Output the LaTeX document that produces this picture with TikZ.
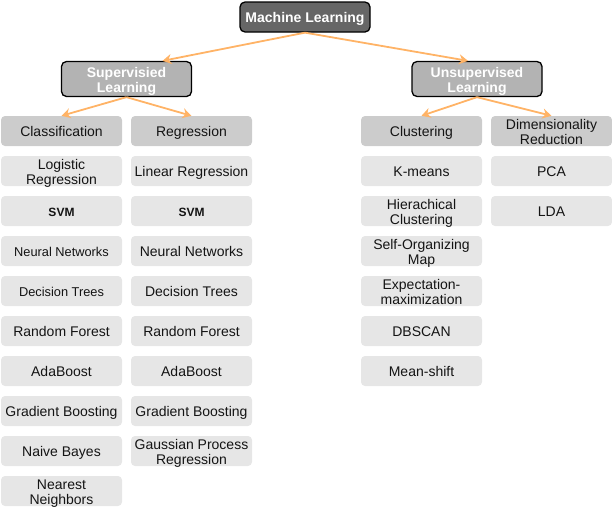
\documentclass[tikz,border=0pt]{standalone}
\usepackage{fontspec}
\setmainfont{Liberation Sans}
\usepackage{tikz}
\usepackage{xcolor}
\usetikzlibrary{arrows.meta}

\definecolor{mlgray}{HTML}{666666}
\definecolor{subgray}{HTML}{B3B3B3}
\definecolor{headgray}{HTML}{CCCCCC}
\definecolor{itemgray}{HTML}{E6E6E6}
\definecolor{textgray}{HTML}{141414}
\definecolor{linkorange}{HTML}{FFB366}
\newcommand{\leftsmall}{\fontsize{12.8}{14}\selectfont}
\newcommand{\svmsize}{\fontsize{12}{13}\selectfont\bfseries}
\newcommand{\twoline}{\rule{0pt}{16.4pt}}

\begin{document}
\begin{tikzpicture}[x=1pt, y=-1pt,
        box/.style={rounded corners=4pt, minimum width=121pt, minimum height=30pt, inner xsep=1pt,
            inner ysep=-4.5pt, align=center, text=textgray, font={\fontsize{14}{15.5}\selectfont},
            execute at begin node=\rule{0pt}{14.6pt}, execute at end node=\rule[-4.6pt]{0pt}{0pt}},
        head/.style={box, fill=headgray},
        item/.style={box, fill=itemgray},
        branch/.style={draw=black, line width=1.3pt, rounded corners=5pt, minimum width=130pt,
            inner xsep=1pt, inner ysep=-4.5pt, align=center, text=white,
            font={\fontsize{14}{15}\selectfont\bfseries},
            execute at begin node=\rule{0pt}{14.6pt}, execute at end node=\rule[-4.6pt]{0pt}{0pt}},
        link/.style={draw=linkorange, line width=1.8pt, -{Stealth[length=9pt, width=10pt]}}]
        \useasboundingbox (0,0) rectangle (612,507);

        \node[branch, fill=mlgray, minimum height=30pt] (ml) at (305,17) {Machine Learning};
        \node[branch, fill=subgray, minimum height=35pt] (sup) at (126.5,79) {\twoline Supervisied\\Learning};
        \node[branch, fill=subgray, minimum height=35pt] (uns) at (477,79) {\twoline Unsupervised\\Learning};

        \node[head] (cls) at (61.5,131) {Classification};
        \node[head] (reg) at (191.5,131) {Regression};
        \node[head] (clu) at (421.5,131) {Clustering};
        \node[head] (dim) at (551.5,131) {\twoline Dimensionality\\Reduction};

        \foreach \name [count=\i] in {{\twoline Logistic\\Regression}, {\svmsize SVM}, {\leftsmall Neural Networks},
                {\leftsmall Decision Trees}, Random Forest, AdaBoost, Gradient Boosting, Naive Bayes,
                {\twoline Nearest\\Neighbors}}
            \node[item] (cls\i) at (61.5,{131+40*\i}) {\name};
        \foreach \name [count=\i] in {Linear Regression, {\svmsize SVM}, Neural Networks, Decision Trees,
                Random Forest, AdaBoost, Gradient Boosting, {\twoline Gaussian Process\\Regression}}
            \node[item] (reg\i) at (191.5,{131+40*\i}) {\name};
        \foreach \name [count=\i] in {K-means, {\twoline Hierachical\\Clustering}, {\twoline Self-Organizing\\Map},
                {\twoline Expectation-\\maximization}, DBSCAN, Mean-shift}
            \node[item] (clu\i) at (421.5,{131+40*\i}) {\name};
        \foreach \name [count=\i] in {PCA, LDA}
            \node[item] (dim\i) at (551.5,{131+40*\i}) {\name};

        \draw[link] (ml.south) -- ([xshift=36pt]sup.north);
        \draw[link] (ml.south) -- ([xshift=-9pt]uns.north);
        \draw[link] (sup.south) -- (cls.north);
        \draw[link] (sup.south) -- (reg.north);
        \draw[link] (uns.south) -- (clu.north);
        \draw[link] (uns.south) -- (dim.north);
    \end{tikzpicture}
\end{document}
